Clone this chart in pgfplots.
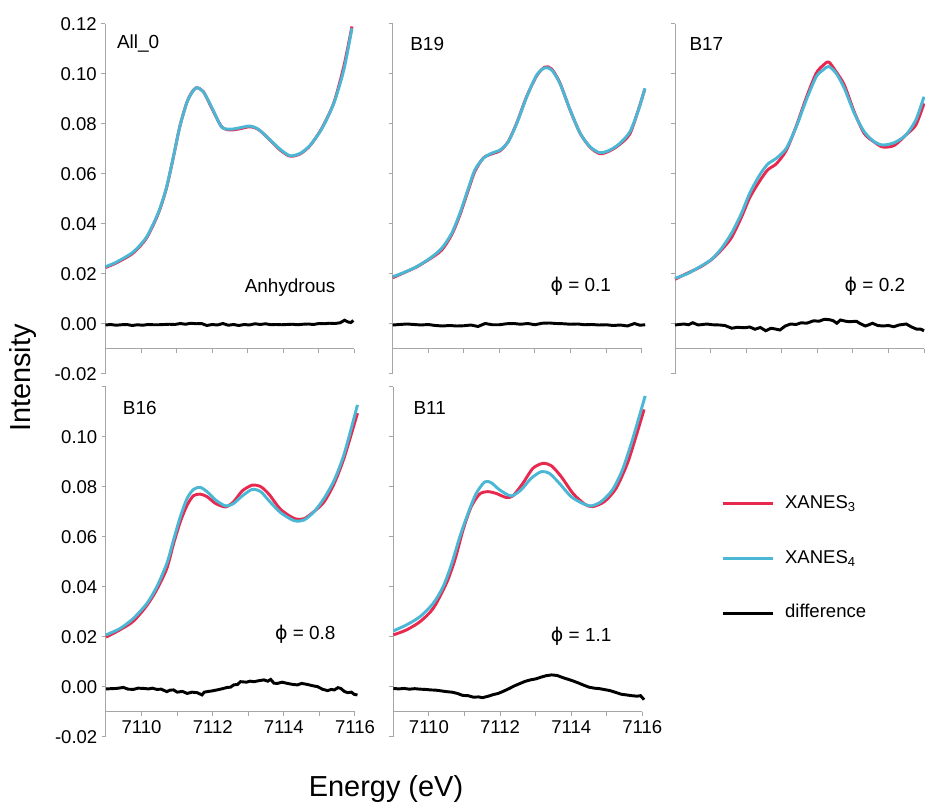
\documentclass[border=0pt]{standalone}
\usepackage{pgfplots}
\pgfplotsset{compat=1.18}
\usepackage{fontspec}
\setmainfont{Liberation Sans}
\newfontfamily\dejavu{DejaVu Sans}
\definecolor{xred}{HTML}{E8294F}
\definecolor{xblue}{HTML}{4BB7D4}
\definecolor{axgray}{HTML}{A6A6A6}
\newcommand{\phisym}{{\dejavu ϕ}}
\tikzset{lab/.style={font=\fontsize{14.2}{16}\selectfont, inner sep=0pt}}
\pgfplotsset{
  panel/.style={
    scale only axis, width=186.75pt, height=262.5pt,
    xmin=7109, xmax=7116, ymin=-0.02, ymax=0.12,
    axis x line=bottom, axis y line=left,
    axis x line shift=-18.75pt,
    axis line style={-, draw=axgray, line width=0.75pt},
    tick style={draw=axgray, line width=0.75pt},
    tick align=outside, major tick length=3pt,
    xtick={7109,7110,7111,7112,7113,7114,7115,7116},
    ytick={-0.02,0,0.02,0.04,0.06,0.08,0.1,0.12},
    xticklabels={}, yticklabels={},
    clip=false,
    ticklabel style={font=\fontsize{13.9}{16}\selectfont},
  },
  rl/.style={color=xred, line width=2.2pt, smooth, tension=0.45},
  bl/.style={color=xblue, line width=2.2pt, smooth, tension=0.45},
  dl/.style={color=black, line width=2.2pt},
}
\begin{document}
\begin{tikzpicture}
\useasboundingbox (0,0) rectangle (693.75pt,603pt);

% ---------- All_0 ----------
\begin{axis}[panel, at={(79.1pt,322.5pt)}, anchor=south west,
  yticklabels={-0.02,0.00,0.02,0.04,0.06,0.08,0.10,0.12}]
\addplot[rl] coordinates {(7109.00,0.0226)(7109.30,0.0244)(7109.77,0.0283)(7110.15,0.0343)(7110.48,0.0440)(7110.71,0.0541)(7110.90,0.0661)(7111.09,0.0790)(7111.28,0.0883)(7111.42,0.0925)(7111.56,0.0945)(7111.75,0.0930)(7111.98,0.0866)(7112.26,0.0790)(7112.50,0.0776)(7112.78,0.0781)(7113.06,0.0789)(7113.30,0.0778)(7113.58,0.0742)(7113.91,0.0696)(7114.19,0.0671)(7114.48,0.0681)(7114.76,0.0715)(7115.09,0.0785)(7115.42,0.0885)(7115.70,0.1030)(7115.93,0.1190)};
\addplot[bl] coordinates {(7109.00,0.0229)(7109.30,0.0247)(7109.77,0.0287)(7110.15,0.0347)(7110.48,0.0443)(7110.71,0.0543)(7110.90,0.0663)(7111.09,0.0789)(7111.28,0.0883)(7111.42,0.0923)(7111.56,0.0945)(7111.75,0.0929)(7111.98,0.0869)(7112.26,0.0789)(7112.50,0.0779)(7112.78,0.0785)(7113.06,0.0792)(7113.30,0.0779)(7113.58,0.0743)(7113.91,0.0699)(7114.19,0.0673)(7114.48,0.0683)(7114.76,0.0716)(7115.09,0.0783)(7115.42,0.0883)(7115.70,0.1016)(7115.93,0.1183)};
\addplot[dl] coordinates {(7109.0,-0.0004)(7109.15,-0.0002)(7109.3,-0.0005)(7109.45,-0.0003)(7109.6,-0.0002)(7109.75,-0.0006)(7109.9,-0.0003)(7110.05,-0.0005)(7110.2,-0.0002)(7110.35,-0.0003)(7110.5,-0.0003)(7110.65,-0.0002)(7110.8,-0.0001)(7110.95,-0.0002)(7111.1,0.0002)(7111.25,-0.0001)(7111.4,0.0003)(7111.55,0.0001)(7111.7,0.0002)(7111.85,-0.0006)(7112.0,-0.0002)(7112.15,-0.0004)(7112.3,0.0002)(7112.45,-0.0005)(7112.6,-0.0002)(7112.75,-0.0006)(7112.9,-0.0002)(7113.05,-0.0004)(7113.2,0.0001)(7113.35,-0.0002)(7113.5,0.0001)(7113.65,-0.0003)(7113.8,-0.0002)(7113.95,-0.0003)(7114.1,-0.0002)(7114.25,-0.0001)(7114.4,-0.0003)(7114.55,-0.0001)(7114.7,0.0000)(7114.85,-0.0002)(7115.0,0.0002)(7115.15,0.0001)(7115.3,0.0003)(7115.45,0.0002)(7115.6,0.0005)(7115.72,0.0015)(7115.82,0.0008)(7115.9,0.0006)(7115.97,0.0014)};
\node[lab, anchor=west] at (axis cs:7109.32,0.112) {All\_0};
\node[lab] at (axis cs:7114.19,0.0146) {Anhydrous};
\end{axis}

% ---------- B19 ----------
\begin{axis}[panel, at={(294.5pt,322.5pt)}, anchor=south west]
\addplot[rl] coordinates {(7109.00,0.0185)(7109.30,0.0204)(7109.67,0.0228)(7110.05,0.0261)(7110.38,0.0296)(7110.66,0.0357)(7110.89,0.0436)(7111.08,0.0516)(7111.31,0.0610)(7111.55,0.0664)(7111.78,0.0680)(7112.02,0.0693)(7112.25,0.0730)(7112.49,0.0805)(7112.77,0.0911)(7113.05,0.0993)(7113.28,0.1028)(7113.47,0.1020)(7113.70,0.0965)(7113.99,0.0855)(7114.27,0.0763)(7114.55,0.0707)(7114.83,0.0681)(7115.11,0.0693)(7115.39,0.0719)(7115.67,0.0761)(7115.91,0.0858)(7116.09,0.0940)};
\addplot[bl] coordinates {(7109.00,0.0189)(7109.30,0.0205)(7109.67,0.0229)(7110.05,0.0263)(7110.38,0.0303)(7110.66,0.0363)(7110.89,0.0443)(7111.08,0.0523)(7111.31,0.0616)(7111.55,0.0663)(7111.78,0.0683)(7112.02,0.0696)(7112.25,0.0729)(7112.49,0.0803)(7112.77,0.0909)(7113.05,0.0996)(7113.28,0.1025)(7113.47,0.1016)(7113.70,0.0963)(7113.99,0.0856)(7114.27,0.0763)(7114.55,0.0709)(7114.83,0.0685)(7115.11,0.0696)(7115.39,0.0723)(7115.67,0.0769)(7115.91,0.0856)(7116.09,0.0943)};
\addplot[dl] coordinates {(7109.0,-0.0004)(7109.2,-0.0002)(7109.4,0.0000)(7109.6,-0.0002)(7109.8,-0.0004)(7110.0,-0.0002)(7110.2,-0.0006)(7110.4,-0.0008)(7110.6,-0.0006)(7110.8,-0.0008)(7111.0,-0.0007)(7111.2,-0.0004)(7111.4,-0.0010)(7111.6,0.0002)(7111.8,-0.0003)(7112.0,-0.0003)(7112.2,0.0001)(7112.4,0.0002)(7112.6,-0.0001)(7112.8,0.0002)(7113.0,-0.0003)(7113.2,0.0003)(7113.4,0.0004)(7113.6,0.0002)(7113.8,0.0001)(7114.0,-0.0001)(7114.2,0.0000)(7114.4,-0.0003)(7114.6,-0.0002)(7114.8,-0.0004)(7115.0,-0.0003)(7115.2,-0.0006)(7115.4,-0.0004)(7115.6,-0.0008)(7115.8,0.0002)(7115.95,-0.0005)(7116.1,-0.0003)};
\node[lab, anchor=west] at (axis cs:7109.49,0.112) {B19};
\node[lab] at (axis cs:7114.29,0.0150) {\phisym\ = 0.1};
\end{axis}

% ---------- B17 ----------
\begin{axis}[panel, at={(506.25pt,322.5pt)}, anchor=south west]
\addplot[rl] coordinates {(7109.00,0.0179)(7109.33,0.0202)(7109.70,0.0227)(7110.03,0.0258)(7110.31,0.0297)(7110.59,0.0346)(7110.87,0.0428)(7111.10,0.0505)(7111.38,0.0572)(7111.61,0.0617)(7111.85,0.0641)(7112.13,0.0695)(7112.41,0.0792)(7112.69,0.0905)(7112.97,0.1003)(7113.16,0.1034)(7113.32,0.1048)(7113.53,0.1009)(7113.76,0.0956)(7114.04,0.0848)(7114.32,0.0762)(7114.60,0.0728)(7114.84,0.0708)(7115.16,0.0714)(7115.49,0.0756)(7115.77,0.0796)(7116.00,0.0882)};
\addplot[bl] coordinates {(7109.00,0.0183)(7109.33,0.0200)(7109.70,0.0229)(7110.03,0.0259)(7110.31,0.0303)(7110.59,0.0363)(7110.87,0.0443)(7111.10,0.0523)(7111.38,0.0596)(7111.61,0.0640)(7111.85,0.0663)(7112.13,0.0703)(7112.41,0.0789)(7112.69,0.0896)(7112.97,0.0989)(7113.16,0.1016)(7113.32,0.1030)(7113.53,0.1003)(7113.76,0.0943)(7114.04,0.0843)(7114.32,0.0769)(7114.60,0.0729)(7114.84,0.0716)(7115.16,0.0725)(7115.49,0.0756)(7115.77,0.0816)(7116.00,0.0909)};
\addplot[dl] coordinates {(7109.0,-0.0004)(7109.12,-0.0002)(7109.25,0.0000)(7109.38,-0.0003)(7109.5,0.0005)(7109.65,-0.0004)(7109.78,-0.0002)(7109.9,0.0000)(7110.05,-0.0003)(7110.25,-0.0004)(7110.4,-0.0006)(7110.6,-0.0017)(7110.75,-0.0013)(7110.95,-0.0015)(7111.1,-0.0012)(7111.25,-0.0021)(7111.4,-0.0014)(7111.55,-0.0027)(7111.7,-0.0017)(7111.82,-0.0020)(7111.95,-0.0024)(7112.1,-0.0008)(7112.25,0.0000)(7112.4,-0.0002)(7112.55,0.0005)(7112.7,0.0003)(7112.9,0.0013)(7113.05,0.0011)(7113.2,0.0019)(7113.35,0.0017)(7113.45,0.0013)(7113.55,0.0003)(7113.65,0.0016)(7113.8,0.0011)(7113.9,0.0009)(7114.1,0.0011)(7114.2,0.0002)(7114.35,-0.0008)(7114.45,-0.0003)(7114.55,0.0003)(7114.7,-0.0006)(7114.85,-0.0008)(7115.0,-0.0006)(7115.15,-0.0011)(7115.3,-0.0004)(7115.5,0.0000)(7115.65,-0.0012)(7115.8,-0.0021)(7115.9,-0.0020)(7116.0,-0.0027)};
\node[lab, anchor=west] at (axis cs:7109.40,0.112) {B17};
\node[lab] at (axis cs:7114.62,0.0150) {\phisym\ = 0.2};
\end{axis}

% ---------- B16 ----------
\begin{axis}[panel, at={(79.5pt,50.5pt)}, anchor=south west,
  yticklabels={-0.02,0.00,0.02,0.04,0.06,0.08,0.10,},
  xticklabels={,7110,,7112,,7114,,7116}]
\addplot[rl] coordinates {(7109.00,0.0198)(7109.40,0.0228)(7109.77,0.0262)(7110.15,0.0325)(7110.43,0.0389)(7110.71,0.0473)(7110.90,0.0572)(7111.09,0.0660)(7111.28,0.0726)(7111.46,0.0764)(7111.65,0.0770)(7111.84,0.0760)(7112.08,0.0733)(7112.36,0.0719)(7112.59,0.0740)(7112.83,0.0783)(7113.11,0.0806)(7113.35,0.0800)(7113.58,0.0770)(7113.91,0.0709)(7114.29,0.0673)(7114.57,0.0672)(7114.85,0.0701)(7115.13,0.0739)(7115.42,0.0814)(7115.70,0.0918)(7116.07,0.1094)};
\addplot[bl] coordinates {(7109.00,0.0207)(7109.40,0.0233)(7109.77,0.0273)(7110.15,0.0333)(7110.43,0.0400)(7110.71,0.0493)(7110.90,0.0587)(7111.09,0.0680)(7111.28,0.0753)(7111.46,0.0789)(7111.65,0.0797)(7111.84,0.0780)(7112.08,0.0747)(7112.36,0.0723)(7112.59,0.0733)(7112.83,0.0763)(7113.11,0.0789)(7113.35,0.0780)(7113.58,0.0744)(7113.91,0.0696)(7114.29,0.0664)(7114.57,0.0667)(7114.85,0.0700)(7115.13,0.0753)(7115.42,0.0827)(7115.70,0.0933)(7116.07,0.1127)};
\addplot[dl] coordinates {(7109.0,-0.0009)(7109.15,-0.0008)(7109.3,-0.0007)(7109.49,-0.0003)(7109.62,-0.0010)(7109.77,-0.0011)(7109.9,-0.0006)(7110.05,-0.0007)(7110.2,-0.0009)(7110.3,-0.0006)(7110.43,-0.0011)(7110.55,-0.0010)(7110.71,-0.0020)(7110.8,-0.0014)(7110.9,-0.0013)(7111.0,-0.0022)(7111.15,-0.0019)(7111.28,-0.0027)(7111.42,-0.0022)(7111.56,-0.0024)(7111.7,-0.0033)(7111.76,-0.0022)(7111.84,-0.0020)(7111.98,-0.0017)(7112.12,-0.0013)(7112.25,-0.0009)(7112.41,-0.0003)(7112.5,-0.0002)(7112.59,0.0007)(7112.7,0.0009)(7112.78,0.0020)(7112.95,0.0018)(7113.05,0.0022)(7113.16,0.0020)(7113.3,0.0024)(7113.44,0.0027)(7113.55,0.0022)(7113.63,0.0029)(7113.72,0.0014)(7113.82,0.0013)(7113.95,0.0018)(7114.1,0.0013)(7114.25,0.0009)(7114.38,0.0007)(7114.5,0.0013)(7114.66,0.0009)(7114.8,0.0004)(7114.95,0.0000)(7115.08,-0.0010)(7115.23,-0.0016)(7115.33,-0.0011)(7115.42,-0.0013)(7115.52,-0.0004)(7115.6,-0.0007)(7115.7,-0.0019)(7115.79,-0.0024)(7115.9,-0.0022)(7115.98,-0.0031)(7116.07,-0.0033)};
\node[lab, anchor=west] at (axis cs:7109.47,0.1114) {B16};
\node[lab] at (axis cs:7114.6,0.0208) {\phisym\ = 0.8};
\end{axis}

% ---------- B11 ----------
\begin{axis}[panel, at={(295pt,50.5pt)}, anchor=south west,
  xticklabels={,7110,,7112,,7114,,7116},
  legend style={at={(1.300,0.509)}, anchor=west, draw=none, fill=none,
    font=\fontsize{13.9}{16}\selectfont, row sep=28pt,
    nodes={inner sep=0pt, text height=10pt, text depth=3pt},
    /tikz/every odd column/.append style={column sep=8.25pt}},
  legend cell align=left,
  legend image code/.code={\draw[#1, line width=2.1pt] (0pt,0pt) -- (37.5pt,0pt);}]
\addplot[rl] coordinates {(7109.00,0.0207)(7109.37,0.0227)(7109.75,0.0260)(7110.12,0.0313)(7110.49,0.0413)(7110.73,0.0507)(7110.96,0.0627)(7111.19,0.0720)(7111.43,0.0771)(7111.66,0.0780)(7111.89,0.0773)(7112.17,0.0757)(7112.36,0.0763)(7112.64,0.0813)(7112.92,0.0873)(7113.20,0.0893)(7113.44,0.0884)(7113.72,0.0840)(7114.05,0.0773)(7114.37,0.0731)(7114.60,0.0720)(7114.93,0.0740)(7115.26,0.0793)(7115.58,0.0893)(7115.82,0.1000)(7116.05,0.1109)};
\addlegendentry{XANES\textsubscript{3}}
\addplot[bl] coordinates {(7109.00,0.0223)(7109.37,0.0247)(7109.75,0.0280)(7110.12,0.0333)(7110.40,0.0400)(7110.63,0.0487)(7110.87,0.0600)(7111.10,0.0693)(7111.33,0.0773)(7111.57,0.0819)(7111.75,0.0816)(7111.99,0.0787)(7112.31,0.0763)(7112.59,0.0787)(7112.87,0.0833)(7113.16,0.0860)(7113.39,0.0853)(7113.67,0.0813)(7114.00,0.0760)(7114.32,0.0733)(7114.56,0.0723)(7114.84,0.0740)(7115.16,0.0787)(7115.44,0.0867)(7115.72,0.0987)(7116.08,0.1163)};
\addlegendentry{XANES\textsubscript{4}}
\addplot[dl] coordinates {(7109.00,-0.0007)(7109.15,-0.0009)(7109.3,-0.0007)(7109.45,-0.0010)(7109.6,-0.0008)(7109.75,-0.0010)(7109.9,-0.0011)(7110.05,-0.0013)(7110.2,-0.0014)(7110.35,-0.0017)(7110.5,-0.0020)(7110.65,-0.0022)(7110.8,-0.0027)(7110.95,-0.0035)(7111.1,-0.0036)(7111.25,-0.0042)(7111.4,-0.0041)(7111.5,-0.0044)(7111.65,-0.0039)(7111.8,-0.0032)(7111.95,-0.0027)(7112.1,-0.0018)(7112.25,-0.0008)(7112.4,0.0003)(7112.55,0.0012)(7112.7,0.0021)(7112.85,0.0027)(7113.0,0.0031)(7113.15,0.0038)(7113.3,0.0044)(7113.45,0.0047)(7113.6,0.0045)(7113.75,0.0037)(7113.9,0.0030)(7114.05,0.0023)(7114.2,0.0015)(7114.35,0.0006)(7114.5,-0.0002)(7114.65,-0.0006)(7114.8,-0.0008)(7114.95,-0.0012)(7115.1,-0.0016)(7115.25,-0.0023)(7115.4,-0.0030)(7115.55,-0.0033)(7115.7,-0.0036)(7115.85,-0.0038)(7115.95,-0.0036)(7116.05,-0.0052)};
\addlegendentry{difference}
\node[lab, anchor=west] at (axis cs:7109.56,0.1114) {B11};
\node[lab] at (axis cs:7114.28,0.0200) {\phisym\ = 1.1};
\end{axis}

\node[rotate=90, font=\fontsize{21.7}{24}\selectfont] at (17.5pt,319.5pt) {Intensity};
\node[anchor=base, font=\fontsize{21.7}{24}\selectfont] at (289.5pt,5.8pt) {Energy (eV)};
\end{tikzpicture}
\end{document}
